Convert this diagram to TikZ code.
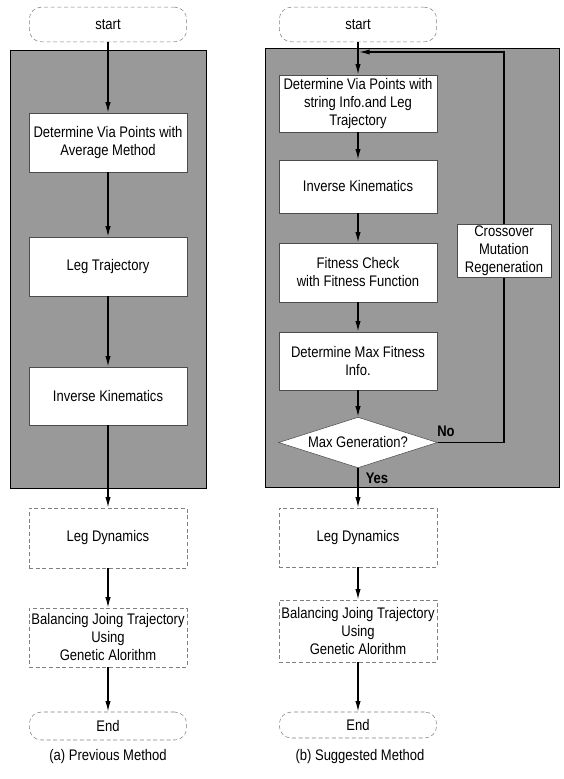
\documentclass[tikz,border=0pt]{standalone}
\usepackage{fontspec}
\setmainfont{Liberation Sans}[FakeStretch=0.85]
\usepackage{tikz}
\usetikzlibrary{arrows.meta,shapes.geometric,positioning}

\tikzset{
	panel/.style={draw=black, line width=0.6pt, fill=black!40},
	proc/.style={draw=black!70, line width=0.4pt, fill=white, minimum width=118.5pt, align=center, inner sep=1pt},
	outproc/.style={draw=black!50, line width=0.4pt, densely dashed, minimum width=118.5pt, align=center, inner sep=1pt},
	term/.style={draw=black!50, line width=0.4pt, densely dashed, rounded corners=9pt, minimum width=118pt, align=center},
	decide/.style={diamond, draw=black!70, line width=0.4pt, fill=white, aspect=3.1, inner sep=0pt, minimum width=119pt, minimum height=38pt},
	flow/.style={line width=1pt, ->},
	back/.style={line width=1pt}
}

\begin{document}
\begin{tikzpicture}[x=0.75pt, y=-0.75pt, font=\fontsize{11.5}{13.5}\selectfont, >={Latex[length=8pt,width=4pt]}]
	\useasboundingbox (0,0) rectangle (564,779);

	% (a) previous method
	\draw[panel] (10,50) rectangle (206,488);
	\node[term, minimum height=26pt] (sa) at (108,24.5) {start};
	\node[proc, minimum height=44pt] (va) at (108,142.5) {Determine Via Points with\\Average Method};
	\node[proc, minimum height=44pt] (lt) at (108,266.5) {Leg Trajectory};
	\node[proc, minimum height=43.5pt] (ika) at (108,396) {Inverse Kinematics};
	\node[outproc, minimum height=45pt] (lda) at (108,538) {Leg Dynamics};
	\node[outproc, minimum height=44pt] (bja) at (108,637.5) {Balancing Joing Trajectory\\Using\\Genetic Alorithm};
	\node[term, minimum height=21pt] (ea) at (108,726) {End};
	\node (capa) at (108,757) {(a) Previous Method};
	\foreach \a/\b in {sa/va, va/lt, lt/ika, ika/lda, lda/bja, bja/ea}
		\draw[flow] (\a) -- (\b);

	% (b) suggested method
	\draw[panel] (265,48) rectangle (559,487);
	\node[term, minimum height=26pt] (sb) at (358,24.5) {start};
	\node[proc, minimum height=42.75pt] (vb) at (358,103.5) {Determine Via Points with\\string Info.and Leg\\Trajectory};
	\node[proc, minimum height=39.75pt] (ikb) at (358,186.5) {Inverse Kinematics};
	\node[proc, minimum height=44.25pt] (fc) at (358,272.5) {Fitness Check\\with Fitness Function};
	\node[proc, minimum height=43.5pt] (mf) at (358,361) {Determine Max Fitness\\Info.};
	\node[decide] (mg) at (358,442.5) {Max Generation?};
	\node[proc, minimum width=70.5pt, minimum height=39pt] (cm) at (504,251) {Crossover\\Mutation\\Regeneration};
	\node[outproc, minimum height=44.25pt] (ldb) at (358,537.5) {Leg Dynamics};
	\node[outproc, minimum height=46.5pt] (bjb) at (358,631) {Balancing Joing Trajectory\\Using\\Genetic Alorithm};
	\node[term, minimum height=19.5pt] (eb) at (358,725) {End};
	\node (capb) at (360,757) {(b) Suggested Method};
	\coordinate (jn) at (359,52);
	\foreach \a/\b in {sb/vb, vb/ikb, ikb/fc, fc/mf, mf/mg, mg/ldb, ldb/bjb, bjb/eb}
		\draw[flow] (\a) -- (\b);
	\draw[back] (mg.east) -| (cm.south);
	\draw[flow] (cm.north) |- (jn);
	\node[font=\fontsize{11.5}{13.5}\selectfont\bfseries] (no) at (446,431) {No};
	\node[font=\fontsize{11.5}{13.5}\selectfont\bfseries] (yes) at (377,478) {Yes};
\end{tikzpicture}
\end{document}
